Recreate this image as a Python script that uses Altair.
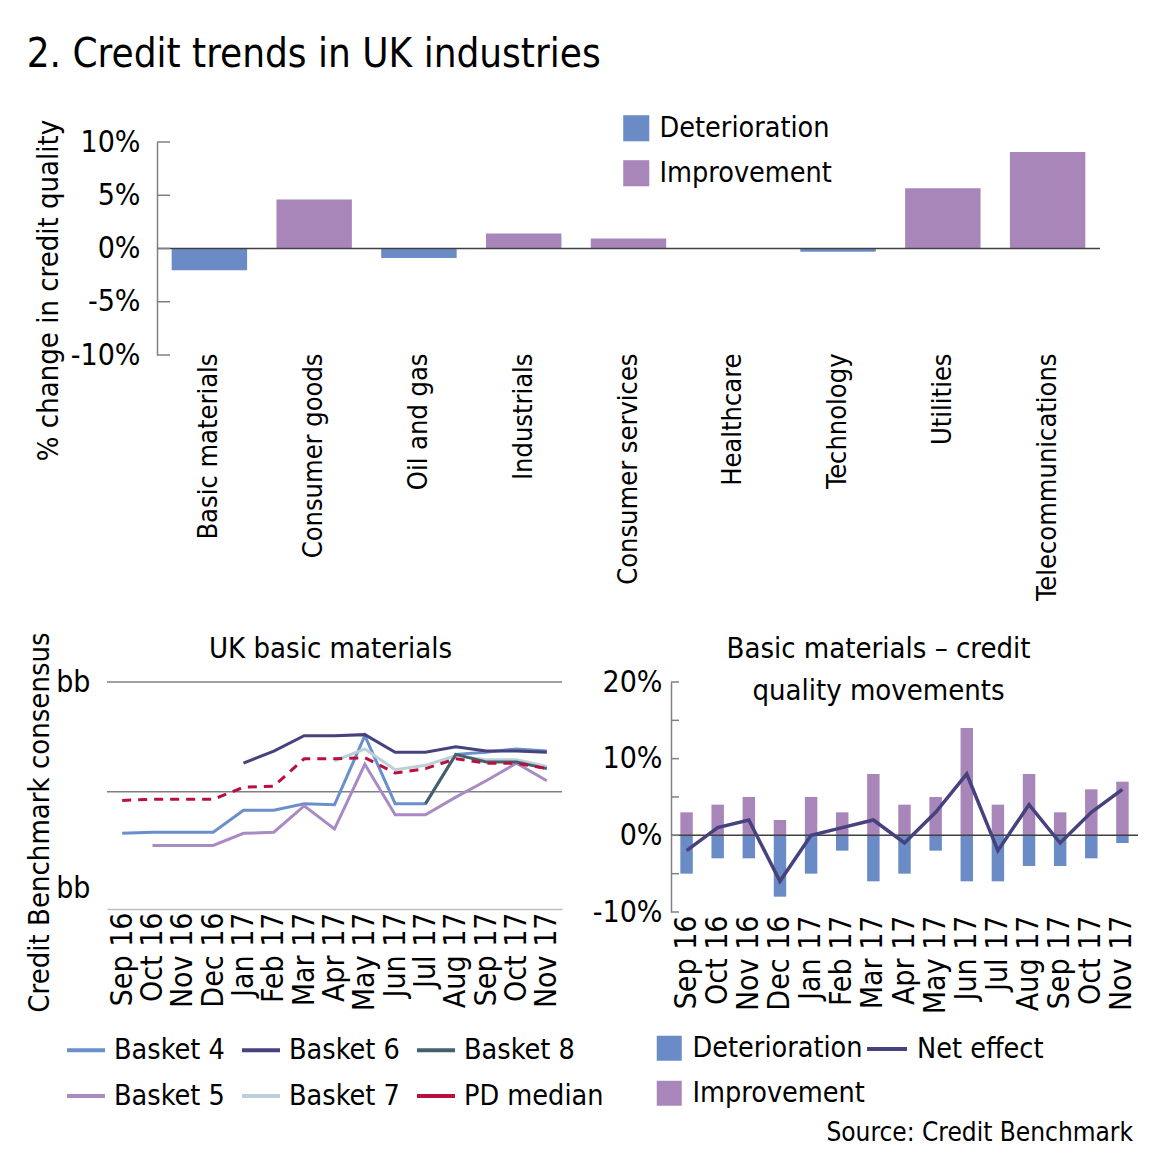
import altair as alt
import pandas as pd

FONT = "DejaVu Sans Condensed, DejaVu Sans, sans-serif"

# ---------------- data ----------------
industries = ["Basic materials", "Consumer goods", "Oil and gas", "Industrials",
              "Consumer services", "Healthcare", "Technology", "Utilities",
              "Telecommunications"]
industry_change = [-2.05, 4.6, -0.9, 1.4, 0.95, 0.05, -0.3, 5.65, 9.05]
direction_labels = ["Deterioration", "Improvement"]
direction_colors = ["#6B8BC6", "#A986BA"]
pct_ticks_top = [-10, -5, 0, 5, 10]

months = ["Sep 16", "Oct 16", "Nov 16", "Dec 16", "Jan 17", "Feb 17", "Mar 17",
          "Apr 17", "May 17", "Jun 17", "Jul 17", "Aug 17", "Sep 17", "Oct 17", "Nov 17"]
basket4 = [0.62, 0.63, 0.63, 0.63, 0.83, 0.83, 0.89, 0.88, 1.51, 0.89, 0.89, 1.34, 1.36, 1.39, 1.37]
basket5 = [None, 0.51, 0.51, 0.51, 0.62, 0.63, 0.87, 0.66, 1.25, 0.79, 0.79, 0.95, 1.10, 1.26, 1.10]
basket6 = [None, None, None, None, 1.26, 1.37, 1.51, 1.51, 1.52, 1.36, 1.36, 1.41, 1.37, 1.37, 1.36]
basket7 = [None, None, None, None, None, None, None, 1.28, 1.39, 1.20, 1.24, 1.33, 1.29, 1.29, 1.23]
basket8 = [None, None, None, None, None, None, None, None, None, None, 0.89, 1.34, 1.27, 1.27, 1.21]
pd_median = [0.92, 0.93, 0.93, 0.93, 1.04, 1.05, 1.30, 1.30, 1.31, 1.17, 1.21, 1.30, 1.26, 1.26, 1.21]
series_names = ["Basket 4", "Basket 5", "Basket 6", "Basket 7", "Basket 8", "PD median"]
series_colors = ["#6A8FCB", "#A98BC4", "#46427E", "#BCD0DA", "#44606E", "#B8113F"]
rating_grid = [1.0, 2.0]
rating_label_pos = [0.12, 2.0]

bm_improvement = [3, 4, 5, 2, 5, 3, 8, 4, 5, 14, 4, 8, 3, 6, 7]
bm_deterioration = [-5, -3, -3, -8, -5, -2, -6, -5, -2, -6, -6, -4, -4, -3, -1]
bm_net = [-2, 1, 2, -6, 0, 1, 2, -1, 3, 8, -2, 4, -1, 3, 6]
pct_ticks_bm = [-10, -5, 0, 5, 10, 15, 20]
source_text = "Source: Credit Benchmark"

GRAY = "#808080"
LBL = 30      # axis label size
CAT = 27      # category label size (top chart)
TTL = 29      # axis / chart title size
LEG = 28.5    # legend label size

# ---------------- top chart ----------------
top_df = pd.DataFrame({"industry": industries, "change": industry_change})
top_df["direction"] = ["Deterioration" if v < 0 else "Improvement" for v in industry_change]
y_top = alt.Scale(domain=[-10, 10], nice=False, zero=False)

top_bars = alt.Chart(top_df).mark_bar().encode(
    x=alt.X("industry:N", sort=industries,
            scale=alt.Scale(paddingInner=0.28, paddingOuter=0.14),
            axis=alt.Axis(title=None, labelAngle=270, labelAlign="right", labelBaseline="middle",
                          ticks=False, domain=False, labelPadding=-2, labelOverlap=False,
                          labelFontSize=CAT)),
    y=alt.Y("change:Q", scale=y_top,
            axis=alt.Axis(values=pct_ticks_top, labelExpr="datum.value + '%'", ticks=False,
                          grid=False, domainColor=GRAY, domainWidth=1.5, labelPadding=17,
                          title="% change in credit quality", titlePadding=7, titleY=148)),
    color=alt.Color("direction:N",
                    scale=alt.Scale(domain=direction_labels, range=direction_colors),
                    legend=alt.Legend(title=None, orient="none", legendX=465, legendY=-28,
                                      symbolType="square", symbolSize=680, symbolStrokeWidth=0,
                                      rowPadding=16, labelOffset=9)),
)
top_zero = alt.Chart(pd.DataFrame({"v": [0]})).mark_rule(color="#404040", strokeWidth=1.5).encode(
    y=alt.Y("v:Q", scale=y_top))
top_ticks = alt.Chart(pd.DataFrame({"t": pct_ticks_top})).mark_rule(color=GRAY, strokeWidth=1.5).encode(
    y=alt.Y("t:Q", scale=y_top), x=alt.value(0), x2=alt.value(13))
top_chart = alt.layer(top_bars, top_zero, top_ticks).properties(width=943, height=213)

# empty spacer so the top plot starts 50px right of the lower-left plot
spacer = alt.Chart(pd.DataFrame({"s": [""]})).mark_text().encode(text="s:N").properties(
    width=50, height=10)
top_row = alt.hconcat(spacer, top_chart, spacing=0, bounds="flush").resolve_scale(
    color="independent").resolve_legend(color="independent")

# ---------------- bottom-left chart ----------------
rows = []
for name, vals in zip(series_names, [basket4, basket5, basket6, basket7, basket8, pd_median]):
    for m, v in zip(months, vals):
        if v is not None:
            rows.append({"month": m, "series": name, "rating": v})
bl_df = pd.DataFrame(rows)
y_bl = alt.Scale(domain=[-0.07, 2.0], nice=False, zero=False)
x_bl = alt.X("month:O", sort=months, scale=alt.Scale(type="point", domain=months, padding=0.5),
             axis=alt.Axis(title=None, labelAngle=270, labelAlign="right", labelBaseline="middle",
                           ticks=False, domain=True, domainColor="#BFBFBF", domainWidth=1.5,
                           labelPadding=3, labelOverlap=False))
color_bl = alt.Color("series:N", scale=alt.Scale(domain=series_names, range=series_colors),
                     legend=alt.Legend(title=None, orient="none", legendX=-42, legendY=347,
                                       columns=3, symbolType="stroke", symbolSize=1444,
                                       symbolStrokeWidth=4, labelOffset=7, columnPadding=9,
                                       rowPadding=10))
bl_grid = alt.Chart(pd.DataFrame({"g": rating_grid})).mark_rule(color=GRAY, strokeWidth=1.5).encode(
    y=alt.Y("g:Q", scale=y_bl,
            axis=alt.Axis(values=rating_label_pos, labelExpr="'bb'", ticks=False, grid=False,
                          domain=False, labelPadding=17, title="Credit Benchmark consensus",
                          titlePadding=1, titleY=140)))
bl_lines = alt.Chart(bl_df).transform_filter(alt.datum.series != "PD median").mark_line(
    strokeWidth=3).encode(x=x_bl, y=alt.Y("rating:Q", scale=y_bl), color=color_bl)
bl_pd = alt.Chart(bl_df).transform_filter(alt.datum.series == "PD median").mark_line(
    strokeWidth=3, strokeDash=[9, 7]).encode(x=x_bl, y=alt.Y("rating:Q", scale=y_bl), color=color_bl)
bl_chart = alt.layer(bl_grid, bl_lines, bl_pd).properties(
    width=455, height=227,
    title=alt.TitleParams("UK basic materials", anchor="middle", frame="group", dx=-4, offset=-32))

# ---------------- bottom-right chart ----------------
bm_rows = []
for m, d, i in zip(months, bm_deterioration, bm_improvement):
    bm_rows.append({"month": m, "direction": "Deterioration", "v": d})
    bm_rows.append({"month": m, "direction": "Improvement", "v": i})
bm_df = pd.DataFrame(bm_rows)
net_df = pd.DataFrame({"month": months, "net": bm_net, "label": ["Net effect"] * len(months)})
y_br = alt.Scale(domain=[-10, 20], nice=False, zero=False)
x_br = alt.X("month:N", sort=months,
             scale=alt.Scale(domain=months, paddingInner=0.6, paddingOuter=0.3),
             axis=alt.Axis(title=None, labelAngle=270, labelAlign="right", labelBaseline="middle",
                           ticks=False, domain=False, labelPadding=3, labelOverlap=False))
br_bars = alt.Chart(bm_df).mark_bar().encode(
    x=x_br,
    y=alt.Y("v:Q", stack=None, scale=y_br,
            axis=alt.Axis(values=pct_ticks_bm, labelExpr="datum.value + '%'", ticks=False,
                          grid=False, domainColor=GRAY, domainWidth=1.5, labelPadding=9,
                          title=None)),
    color=alt.Color("direction:N",
                    scale=alt.Scale(domain=direction_labels, range=direction_colors),
                    legend=alt.Legend(title=None, orient="none", legendX=-16, legendY=352,
                                      symbolType="square", symbolSize=625, symbolStrokeWidth=0,
                                      rowPadding=16, labelOffset=9)),
)
br_zero = alt.Chart(pd.DataFrame({"v": [0]})).mark_rule(color="#404040", strokeWidth=1.5).encode(
    y=alt.Y("v:Q", scale=y_br))
br_ticks = alt.Chart(pd.DataFrame({"t": pct_ticks_bm})).mark_rule(color=GRAY, strokeWidth=1.5).encode(
    y=alt.Y("t:Q", scale=y_br), x=alt.value(0), x2=alt.value(8))
br_net = alt.Chart(net_df).mark_line(strokeWidth=3.5).encode(
    x=x_br, y=alt.Y("net:Q", scale=y_br),
    stroke=alt.Stroke("label:N", scale=alt.Scale(domain=["Net effect"], range=["#46427E"]),
                      legend=alt.Legend(title=None, orient="none", legendX=194, legendY=345,
                                        symbolType="stroke", symbolSize=1600,
                                        symbolStrokeWidth=4, labelOffset=8)))
br_source = alt.Chart(pd.DataFrame({"t": [source_text]})).mark_text(
    align="right", baseline="middle", fontSize=26, font=FONT, color="#000").encode(
    text="t:N", x=alt.value(462), y=alt.value(451))
br_chart = alt.layer(br_bars, br_zero, br_ticks, br_net, br_source).resolve_scale(
    color="independent", stroke="independent").properties(
    width=467, height=230,
    title=alt.TitleParams(["Basic materials \u2013 credit", "quality movements"],
                          anchor="middle", frame="group", offset=-39, dx=-26, lineHeight=42))

bottom = alt.hconcat(bl_chart, br_chart, spacing=109, bounds="flush").resolve_scale(
    color="independent", stroke="independent").resolve_legend(
    color="independent", stroke="independent")

chart = alt.concat(top_row, bottom, columns=1, spacing=30).resolve_scale(
    color="independent", stroke="independent").resolve_legend(
    color="independent", stroke="independent").properties(
    title=alt.TitleParams("2. Credit trends in UK industries", anchor="start", fontSize=40,
                          offset=39, dx=1),
    padding={"left": 17, "top": 27, "right": 5, "bottom": 5},
).configure_view(stroke=None).configure_axis(
    labelFont=FONT, titleFont=FONT, labelFontSize=LBL, titleFontSize=TTL, labelLimit=400,
    titleFontWeight="normal", labelColor="#000", titleColor="#000",
).configure_legend(
    labelFont=FONT, labelFontSize=LEG, labelColor="#000", labelLimit=400,
).configure_title(
    font=FONT, fontSize=TTL, fontWeight="normal", color="#000",
)

chart.save("out.html", embed_options={"renderer": "svg", "actions": False})
